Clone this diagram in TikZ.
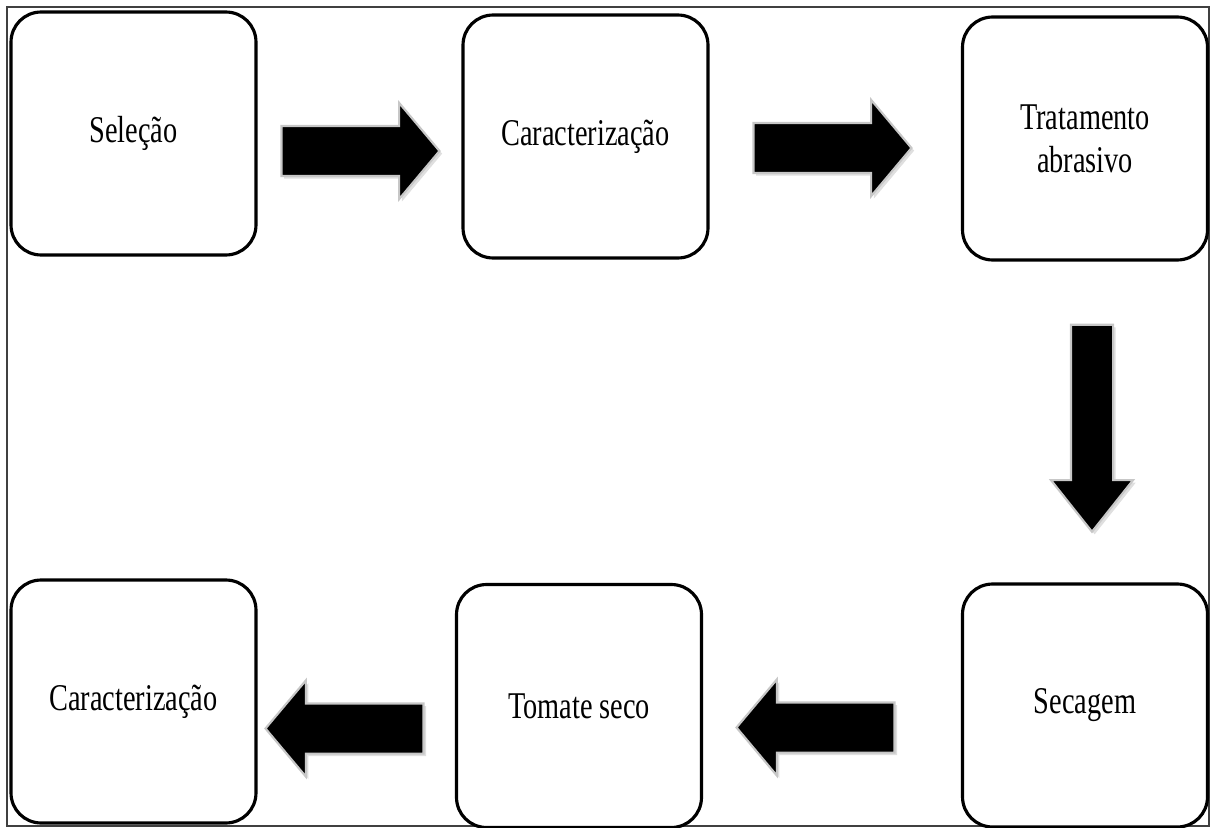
\documentclass[tikz,border=0pt]{standalone}
\usepackage{fontspec}
\setmainfont{Liberation Serif}
\newfontfamily\boxfont{Liberation Serif}[FakeStretch=0.75]
\usetikzlibrary{shapes.arrows, shadows}

\begin{document}
\begin{tikzpicture}[
  x=0.02cm, y=-0.02cm,
  font=\boxfont\fontsize{21.5}{24.5}\selectfont,
  stepbox/.style={rectangle, rounded corners=0.6cm, draw=black, line width=1.8pt,
                  fill=white, minimum width=4.9cm, minimum height=4.86cm,
                  align=center, inner sep=0pt},
  blockarrow/.style={single arrow, fill=black, draw=black!22, line width=1.2pt,
                     inner xsep=0pt, inner ysep=0.48cm, minimum height=3.16cm,
                     single arrow head extend=0.46cm, single arrow tip angle=100,
                     drop shadow={opacity=0.25, shadow xshift=1.5pt, shadow yshift=-1.5pt}},
]
\useasboundingbox (0,0) rectangle (1211,828);
\draw [black!75, line width=0.8pt] (7,7) rectangle (1209,826);
% process steps
\node (sel)    [stepbox] at (133.5,133.5) {Seleção};
\node (carac)  [stepbox] at (585.5,136.5) {Caracterização};
\node (trat)   [stepbox] at (1085,138.5)  {Tratamento\\abrasivo};
\node (sec)    [stepbox] at (1085,705.5)  {Secagem};
\node (tom)    [stepbox] at (579,706)     {Tomate seco};
\node (caracf) [stepbox] at (133.5,701.5) {Caracterização};
% block arrows between the steps
\foreach \n/\x/\y/\r in {selcarac/350/151/0, caractrat/822/148/0,
                         sectom/826/727.5/180, tomcaracf/355/728.5/180}
  \node (\n) [blockarrow, rotate=\r] at (\x,\y) {};
\node (tratsec) [blockarrow, rotate=-90, minimum height=4.14cm, inner ysep=0.4cm,
                 single arrow head extend=0.4cm, single arrow tip angle=77]
  at (1092,415) {};
\end{tikzpicture}
\end{document}
